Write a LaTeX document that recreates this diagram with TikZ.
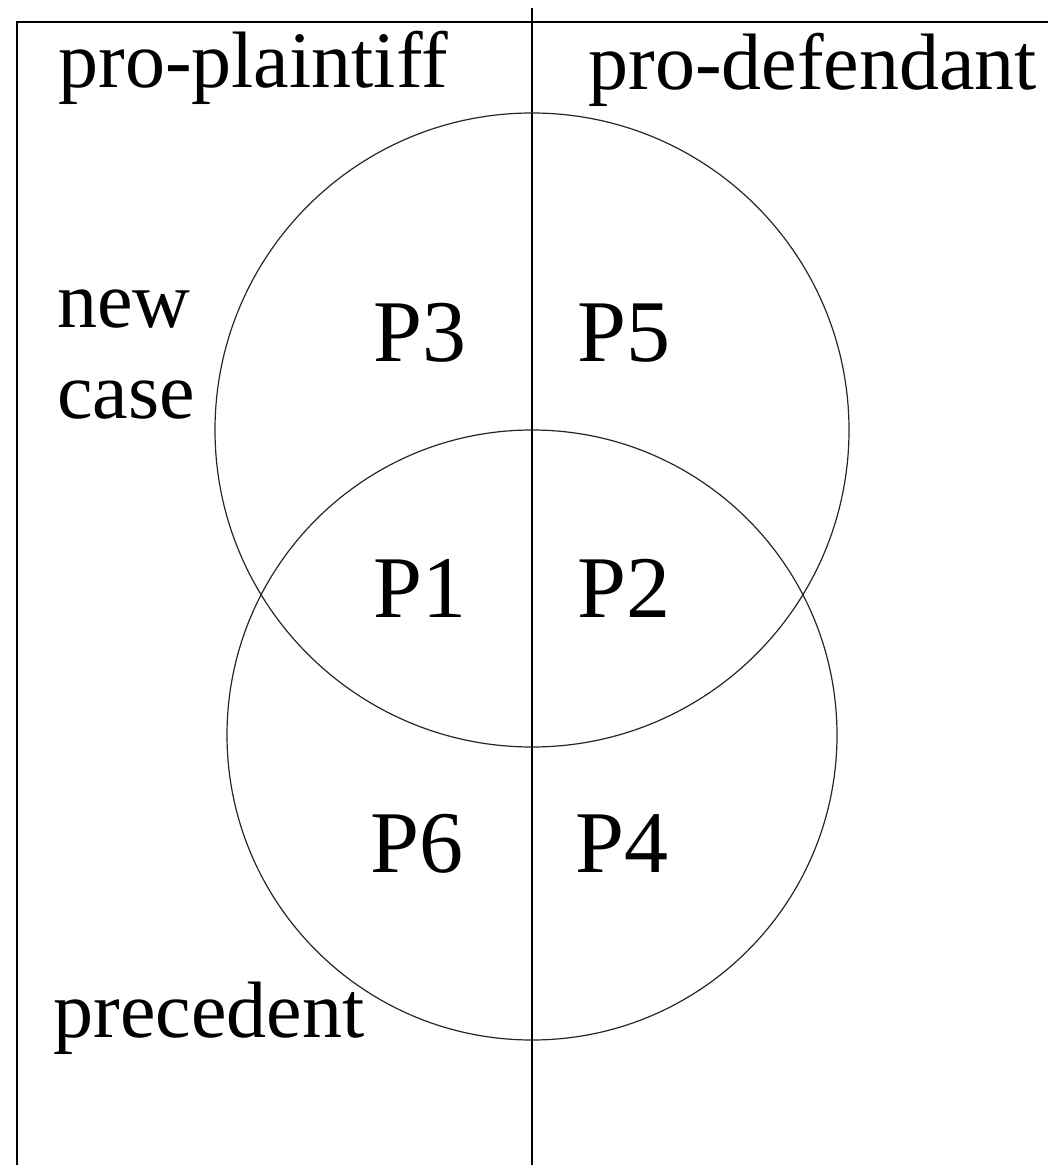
\documentclass[tikz,border=0pt]{standalone}
\usepackage{fontspec}
\setmainfont{Liberation Serif}
\usepackage{tikz}
\tikzstyle{side}=[inner sep=0pt, anchor=base west, font=\fontsize{40}{45}\selectfont]
\tikzstyle{prop}=[inner sep=0pt, anchor=base west, font=\fontsize{44}{50}\selectfont]
\tikzstyle{region}=[shape=circle, draw, inner sep=0pt, line width=0.6pt, draw=black!85]
\tikzstyle{rule}=[line width=1pt]

\begin{document}
\begin{tikzpicture}[x=0.5pt, y=-0.5pt]
        \useasboundingbox (0, 0) rectangle (1048, 1165);
        % frame and the plaintiff / defendant split
        \coordinate (TL) at (17, 22);
        \coordinate (TR) at (1048, 22);
        \coordinate (BL) at (17, 1165);
        \coordinate (MT) at (532, 8);
        \coordinate (MB) at (532, 1165);
        \draw[rule] (BL) -- (TL) -- (TR);
        \draw[rule] (MT) -- (MB);
        % the two cases
        \node[region, minimum size=317pt] (newcase) at (532, 430) {};
        \node[region, minimum size=305pt] (prec) at (532, 735) {};
        % labels
        \node[side] (plaintiff) at (58, 88) {pro-plaintiff};
        \node[side] (defendant) at (588, 90) {pro-defendant};
        \node[side] (new) at (57, 328) {new};
        \node[side] (case) at (57, 418) {case};
        \node[side] (precedent) at (53, 1037) {precedent};
        % factors
        \node[prop] (P3) at (373, 362) {P3};
        \node[prop] (P5) at (577, 362) {P5};
        \node[prop] (P1) at (373, 617) {P1};
        \node[prop] (P2) at (577, 617) {P2};
        \node[prop] (P6) at (370, 872) {P6};
        \node[prop] (P4) at (575, 872) {P4};
    \end{tikzpicture}
\end{document}
